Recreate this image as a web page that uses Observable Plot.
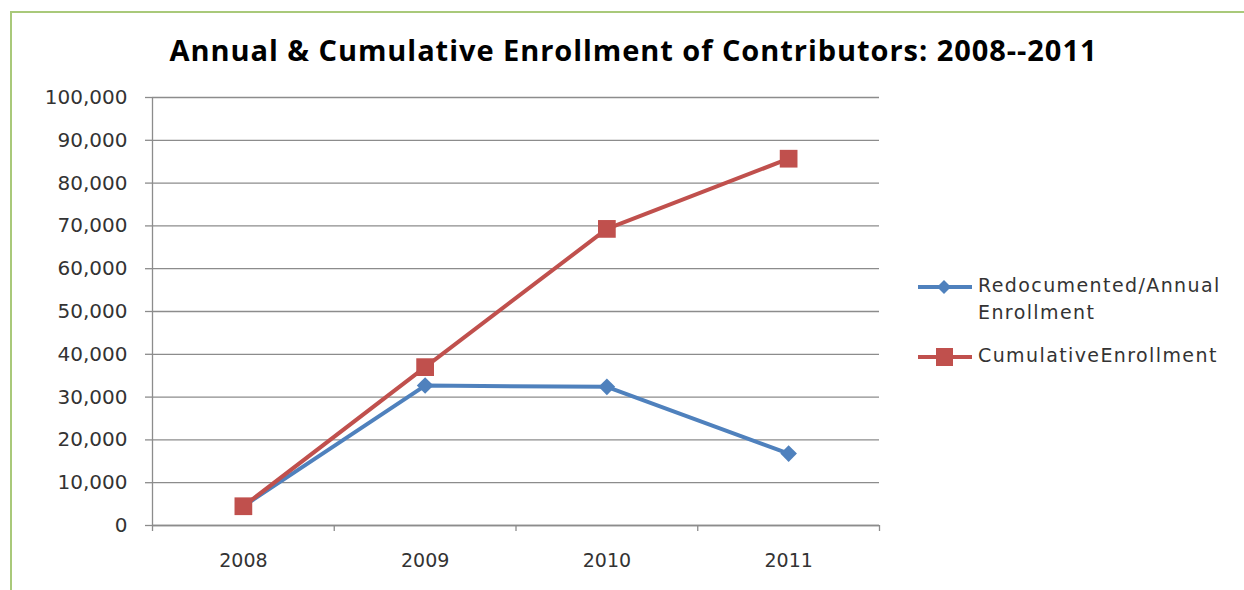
<!DOCTYPE html>
<html>
<head>
<meta charset="utf-8">
<script src="https://cdn.jsdelivr.net/npm/d3@7"></script>
<script src="https://cdn.jsdelivr.net/npm/@observablehq/plot@0.6"></script>
<style>
  html, body { margin: 0; padding: 0; background: #fff; }
  #wrap { position: relative; width: 1244px; height: 590px; overflow: hidden; font-family: "DejaVu Sans", sans-serif; }
  #border { position: absolute; left: 10px; top: 11px; width: 1300px; height: 700px; border-left: 2px solid #A9C97A; border-top: 2px solid #A9C97A; }
  #title { position: absolute; left: 0; top: 30px; width: 1267px; text-align: center; font-family: "Open Sans", sans-serif; font-weight: 700; font-size: 29px; letter-spacing: 0.95px; color: #000; }
  #chart { position: absolute; left: 0; top: 60px; }
  #legend { position: absolute; left: 917px; top: 272px; font-size: 19px; color: #333; letter-spacing: 1.4px; }
  .item { position: relative; height: 30px; }
  .item svg { position: absolute; left: 0; top: 0; }
  .item span { position: absolute; left: 61px; top: 3px; white-space: nowrap; line-height: 27px; }
</style>
</head>
<body>
<div id="wrap">
  <div id="border"></div>
  <div id="title"></div>
  <div id="chart"></div>
  <div id="legend"></div>
</div>
<script>
const title = "Annual & Cumulative Enrollment of Contributors: 2008--2011";
const years = ["2008", "2009", "2010", "2011"];
const annual = [4500, 32700, 32400, 16800];
const cumulative = [4500, 37000, 69300, 85700];
const seriesNames = ["Redocumented/Annual Enrollment", "CumulativeEnrollment"];
const seriesColors = ["#4F81BD", "#C0504D"];
const yTicks = [0, 10000, 20000, 30000, 40000, 50000, 60000, 70000, 80000, 90000, 100000];

document.getElementById("title").textContent = title;

const rows = [];
years.forEach((yr, i) => {
  rows.push({i, year: yr, value: annual[i], series: seriesNames[0]});
});
years.forEach((yr, i) => {
  rows.push({i, year: yr, value: cumulative[i], series: seriesNames[1]});
});
const aRows = rows.filter(d => d.series === seriesNames[0]);
const cRows = rows.filter(d => d.series === seriesNames[1]);

const xDomain = [-0.5, years.length - 0.5];
const boundaries = years.map((_, i) => i - 0.5).concat([years.length - 0.5]);
const centers = years.map((_, i) => i);

const axisGray = "#8C8C8C";

const chart = Plot.plot({
  width: 900,
  height: 530,
  marginLeft: 152,
  marginRight: 21,
  marginTop: 37,
  marginBottom: 65,
  style: { fontFamily: "DejaVu Sans, sans-serif", background: "transparent", color: "#333" },
  x: { domain: xDomain, axis: null },
  y: { domain: [0, 100000], axis: null },
  marks: [
    Plot.gridY(yTicks, { stroke: axisGray, strokeOpacity: 1, strokeWidth: 1.3 }),
    Plot.axisY({ ticks: yTicks, label: null, tickSize: 7, tickPadding: 18, tickFormat: d3.format(","), fontSize: 20, stroke: axisGray, strokeWidth: 1.3, fill: "#333", letterSpacing: 1.2 }),
    Plot.ruleX([xDomain[0]], { stroke: axisGray, strokeWidth: 1.3 }),
    Plot.ruleY([0], { stroke: axisGray, strokeWidth: 1.3 }),
    Plot.axisX({ ticks: boundaries, label: null, tickSize: 6, tickFormat: () => "", stroke: axisGray, strokeWidth: 1.3 }),
    Plot.axisX({ ticks: centers, label: null, tickSize: 0, tickPadding: 28, tickFormat: i => years[i], fontSize: 19, fill: "#333", letterSpacing: 1.2 }),
    Plot.line(aRows, { x: "i", y: "value", stroke: seriesColors[0], strokeWidth: 4 }),
    Plot.dot(aRows, { x: "i", y: "value", symbol: "diamond2", r: 7.5, fill: seriesColors[0], stroke: "none" }),
    Plot.line(cRows, { x: "i", y: "value", stroke: seriesColors[1], strokeWidth: 4 }),
    Plot.dot(cRows, { x: "i", y: "value", symbol: "square", r: 10, fill: seriesColors[1], stroke: "none" })
  ]
});
document.getElementById("chart").appendChild(chart);

const legend = document.getElementById("legend");
const markers = [
  '<polygon points="27,8 34,15 27,22 20,15" fill="#4F81BD"/>',
  '<rect x="19" y="6" width="17" height="18" fill="#C0504D"/>'
];
const legendLabels = [["Redocumented/Annual", "Enrollment"], ["CumulativeEnrollment"]];
legendLabels.forEach((lines, k) => {
  const item = document.createElement("div");
  item.className = "item";
  item.style.height = k === 0 ? "70px" : "30px";
  item.innerHTML = `<svg width="60" height="30"><line x1="1" y1="15" x2="55" y2="15" stroke="${seriesColors[k]}" stroke-width="4"/>${markers[k]}</svg>` +
    `<span style="top:0px">${lines.join("<br>")}</span>`;
  legend.appendChild(item);
});
</script>
</body>
</html>
